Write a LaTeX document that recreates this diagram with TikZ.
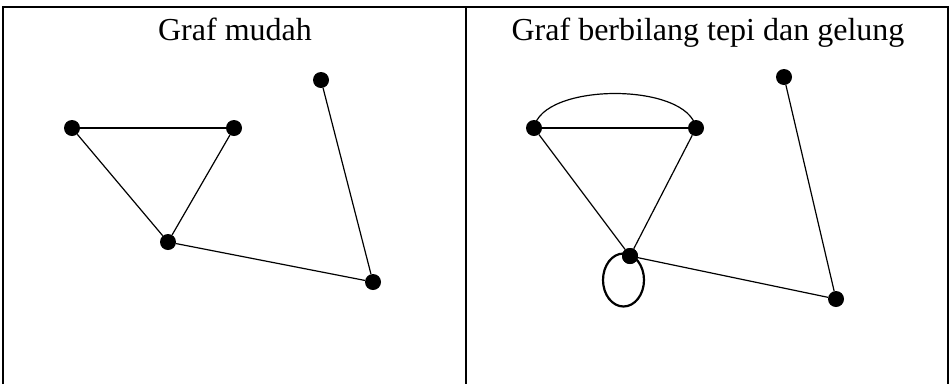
\documentclass[tikz,border=0pt]{standalone}
\usepackage{fontspec}
\setmainfont{Liberation Serif}
\begin{document}
\begin{tikzpicture}[x=1pt,y=-1pt,
  vtx/.style={circle,fill=black,inner sep=0pt,minimum size=16pt},
  edge/.style={line width=1.2pt},
  frame/.style={line width=1.8pt},
  title/.style={font=\fontsize{32}{38}\selectfont,anchor=base}]
\useasboundingbox (0,0) rectangle (952,384);
% table frame
\coordinate (tl) at (3,7);
\coordinate (tm) at (466,7);
\coordinate (tr) at (948,7);
\coordinate (bl) at (3,384);
\coordinate (bm) at (466,384);
\coordinate (br) at (948,384);
\draw[frame] (bl) -- (tl) -- (tr) -- (br);
\draw[frame] (tm) -- (bm);
% titles
\node[title] (t1) at (235,40) {Graf mudah};
\node[title] (t2) at (708,40) {Graf berbilang tepi dan gelung};
% left graph
\node[vtx] (a) at (72,128) {};
\node[vtx] (b) at (234,128) {};
\node[vtx] (c) at (168,242) {};
\node[vtx] (d) at (321,80) {};
\node[vtx] (e) at (373,282) {};
\draw[edge] (a) -- (b);
\draw[edge] (a) -- (c);
\draw[edge] (b) -- (c);
\draw[edge] (c) -- (e);
\draw[edge] (d) -- (e);
% right graph
\node[vtx] (a2) at (534,128) {};
\node[vtx] (b2) at (696,128) {};
\node[vtx] (c2) at (630,256) {};
\node[vtx] (d2) at (784,77) {};
\node[vtx] (e2) at (836,299) {};
\draw[edge] (a2) -- (b2);
\draw[edge] (a2.center) .. controls +(8,-46) and +(-8,-46) .. (b2.center);
\draw[edge] (a2) -- (c2);
\draw[edge] (b2) -- (c2);
\draw[edge] (c2) -- (e2);
\draw[edge] (d2) -- (e2);
\draw[line width=2.2pt] (623.5,280) ellipse[x radius=20.5,y radius=26.5];
\node[vtx] at (c2) {};
\end{tikzpicture}
\end{document}
